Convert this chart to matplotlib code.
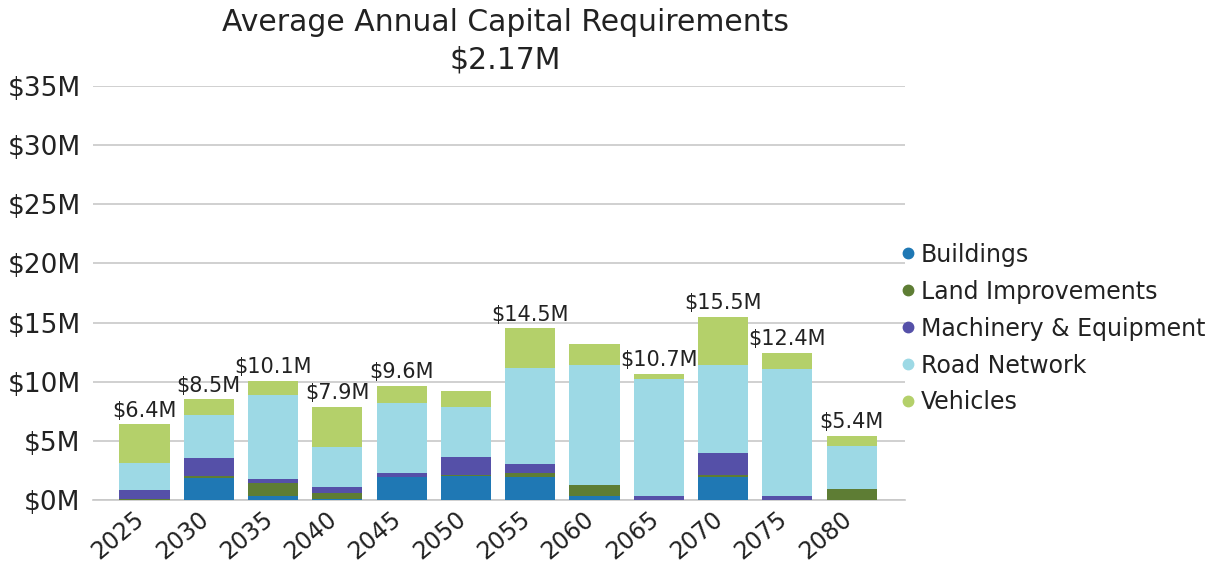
import matplotlib
matplotlib.use("Agg")
import matplotlib.pyplot as plt
from matplotlib.lines import Line2D
from matplotlib.transforms import ScaledTranslation
import numpy as np

years = ["2025", "2030", "2035", "2040", "2045", "2050", "2055", "2060", "2065", "2070", "2075", "2080"]
buildings = [0.00, 1.83, 0.35, 0.05, 1.92, 2.00, 1.97, 0.37, 0.00, 1.92, 0.00, 0.00]
land = [0.05, 0.23, 1.05, 0.57, 0.00, 0.10, 0.34, 0.90, 0.00, 0.19, 0.00, 0.90]
machinery = [0.80, 1.52, 0.35, 0.45, 0.33, 1.52, 0.73, 0.00, 0.34, 1.83, 0.34, 0.00]
road = [2.25, 3.60, 7.13, 3.43, 5.92, 4.26, 8.09, 10.14, 9.86, 7.47, 10.71, 3.69]
vehicles = [3.30, 1.35, 1.20, 3.36, 1.47, 1.32, 3.38, 1.75, 0.48, 4.07, 1.38, 0.85]
show_label = [True, True, True, True, True, False, True, False, True, True, True, True]
series_names = ["Buildings", "Land Improvements", "Machinery & Equipment", "Road Network", "Vehicles"]
colors = ["#1F78B4", "#5E7D34", "#5550A8", "#9DD9E5", "#B4D06A"]
y_ticks = [0, 5, 10, 15, 20, 25, 30, 35]
title1 = "Average Annual Capital Requirements"
title2 = "$2.17M"

plt.rcParams['font.family'] = ['DejaVu Sans']
fig = plt.figure(figsize=(12.18, 5.67), dpi=100)
ax = fig.add_axes([0.0764, 0.1182, 0.743 - 0.0764, 0.8483 - 0.1182])

x = np.arange(len(years))
series = [buildings, land, machinery, road, vehicles]
bottom = np.zeros(len(years))
for vals, c in zip(series, colors):
    v = np.array(vals)
    ax.bar(x, v, width=0.78, bottom=bottom, color=c, zorder=3)
    bottom += v

for i, tot in enumerate(bottom):
    if show_label[i]:
        ax.text(x[i], tot + 0.3, f"${tot:.1f}M", ha='center', va='bottom',
                fontsize=15, color='#222222', zorder=4)

ax.set_xlim(-0.8, 11.83)
ax.set_ylim(0, 35)
ax.tick_params(axis='both', length=0)
ax.tick_params(axis='y', pad=9)
ax.tick_params(axis='x', pad=5)
ax.set_yticks(y_ticks)
ax.set_yticklabels([f"${t}M" for t in y_ticks], fontsize=19, color='#222222')
ax.set_xticks(x)
ax.set_xticklabels(years, rotation=40, ha='right', rotation_mode='anchor',
                   fontsize=17, color='#222222')
shift = ScaledTranslation(-11 / 100, 0, fig.dpi_scale_trans)
for lbl in ax.xaxis.get_majorticklabels():
    lbl.set_transform(lbl.get_transform() + shift)
ax.grid(axis='y', color='#C8C8C8', linewidth=1.2, zorder=0)
for s in ['top', 'right', 'left']:
    ax.spines[s].set_visible(False)
ax.spines['bottom'].set_color('#C8C8C8')
ax.spines['bottom'].set_linewidth(1.2)

fig.text(0.415, 0.961, title1, ha='center', va='center', fontsize=21.5, color='#222222')
fig.text(0.415, 0.894, title2, ha='center', va='center', fontsize=21.5, color='#222222')

handles = [Line2D([0], [0], marker='o', color='none', markerfacecolor=c, markeredgecolor=c,
                  markersize=7.5) for c in colors]
leg = fig.legend(handles, series_names, loc='center left', bbox_to_anchor=(0.7395, 0.4206),
                 frameon=False, fontsize=17, handlelength=0.6, handletextpad=0.25,
                 labelspacing=0.55, borderaxespad=0, borderpad=0)
for t in leg.get_texts():
    t.set_color('#222222')

fig.savefig("out.png", dpi=100)
